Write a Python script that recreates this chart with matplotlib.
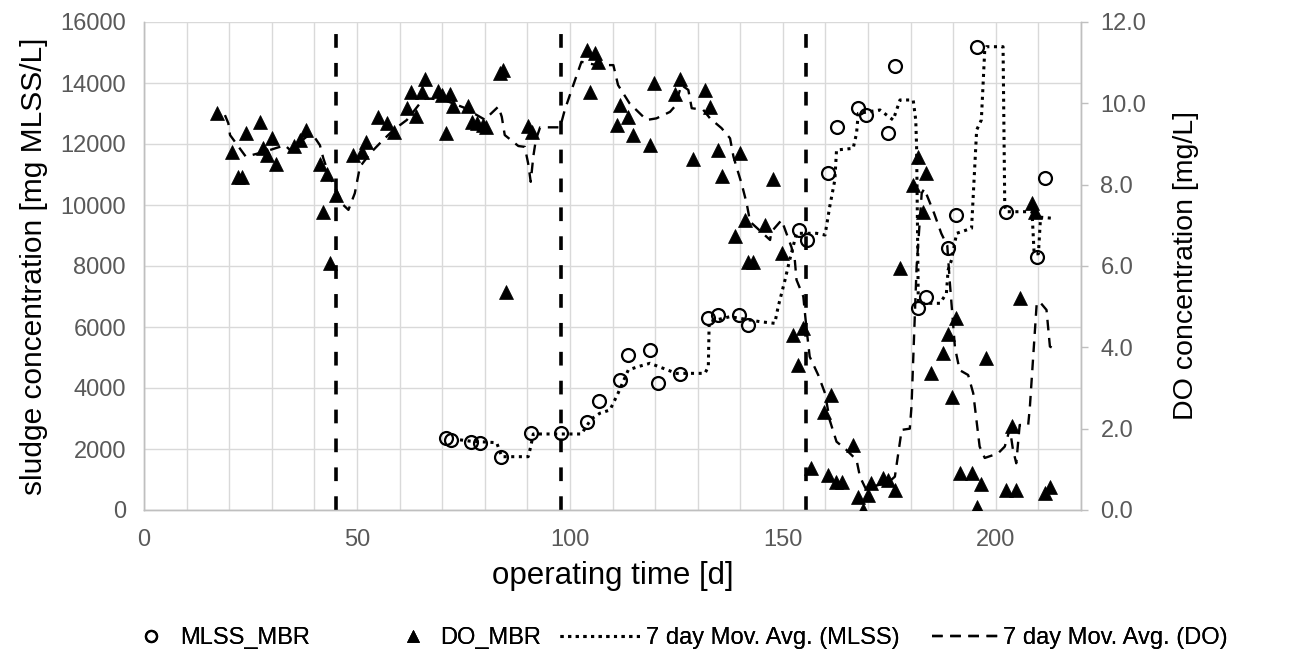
import matplotlib
matplotlib.use("Agg")
import matplotlib.pyplot as plt
from matplotlib.lines import Line2D

# ---------------- data ----------------
mlss_day = [71.0, 72.0, 76.7, 78.9, 83.8, 90.8, 97.9, 103.9, 106.8, 111.7, 113.7,
            118.8, 120.7, 125.8, 132.5, 134.8, 139.7, 141.9, 153.8, 155.6, 160.6,
            162.6, 167.7, 169.6, 174.7, 176.4, 181.8, 183.7, 188.8, 190.6, 195.5,
            202.5, 209.6, 211.5]
mlss_val = [2350, 2300, 2240, 2210, 1730, 2510, 2510, 2900, 3590, 4260, 5080,
            5250, 4180, 4450, 6280, 6390, 6390, 6070, 9180, 8850, 11060,
            12570, 13170, 12950, 12370, 14560, 6610, 6970, 8580, 9670, 15190,
            9780, 8290, 10880]

do_day = [17.1, 20.6, 22.1, 22.9, 24.0, 27.2, 28.0, 28.8, 30.0, 31.0, 35.2, 36.6,
          38.0, 41.3, 42.0, 42.9, 43.7, 45.0, 49.1, 51.1, 52.1, 55.0, 57.0, 58.8,
          61.7, 62.8, 63.8, 65.2, 66.0, 69.1, 69.9, 71.0, 71.8, 72.6, 76.1, 76.9,
          78.1, 79.5, 80.4, 83.6, 84.3, 85.0, 90.2, 91.0, 103.9, 104.7, 105.9,
          106.6, 111.0, 111.7, 113.7, 114.9, 118.8, 119.7, 124.6, 125.8, 128.8,
          131.7, 132.9, 134.8, 135.8, 138.7, 139.9, 141.1, 141.9, 143.0, 145.8,
          147.7, 149.7, 152.4, 153.6, 154.8, 156.7, 159.6, 160.6, 161.4, 162.4,
          163.8, 166.4, 167.7, 168.9, 170.0, 170.8, 173.5, 174.7, 176.3, 177.6,
          180.6, 181.8, 182.9, 183.7, 184.7, 187.6, 188.8, 189.6, 190.6, 191.5,
          194.5, 195.6, 196.6, 197.7, 202.3, 203.7, 204.7, 205.6, 208.4, 209.2,
          211.5, 212.8]
do_val = [9.77, 8.81, 8.20, 8.20, 9.26, 9.55, 8.89, 8.73, 9.14, 8.52, 8.95, 9.10,
          9.34, 8.52, 7.33, 8.26, 6.07, 7.75, 8.73, 8.81, 9.06, 9.67, 9.51, 9.30,
          9.88, 10.29, 9.69, 10.29, 10.59, 10.31, 10.20, 9.26, 10.23, 9.93, 9.93, 9.55,
          9.51, 9.47, 9.43, 10.74, 10.82, 5.37, 9.44, 9.30, 11.31, 10.29, 11.23,
          11.02, 9.47, 9.96, 9.67, 9.22, 8.97, 10.49, 10.23, 10.59, 8.62,
          10.33, 9.92, 8.85, 8.21, 6.74, 8.77, 7.13, 6.10, 6.10, 7.01,
          8.13, 6.31, 4.30, 3.57, 4.47, 1.03, 2.42, 0.86, 2.83, 0.70,
          0.70, 1.60, 0.33, 0.00, 0.37, 0.66, 0.78, 0.74, 0.49, 5.96,
          7.99, 8.69, 7.33, 8.28, 3.36, 3.87, 4.33, 2.77, 4.71, 0.90,
          0.90, 0.07, 0.64, 3.73, 0.49, 2.07, 0.49, 5.21, 7.54, 7.33,
          0.41, 0.57]

# 7 day moving averages as drawn in the reference
ma_mlss_day = [74.2, 77.0, 80.0, 82.8, 84.0, 90.2, 90.8, 91.4, 102.7, 105.0, 107.0,
               109.4, 111.3, 113.7, 116.0, 118.8, 121.9, 125.0, 131.7, 132.5, 132.7,
               137.6, 139.9, 144.6, 148.1, 148.9, 150.5, 151.6, 153.2, 157.9, 159.9,
               161.0, 162.2, 162.6, 166.5, 167.3, 167.7, 172.8, 175.9, 177.5, 180.6,
               181.2, 181.4, 181.8, 186.9, 188.4, 188.8, 189.6, 190.8, 194.3, 195.5,
               196.6, 197.4, 197.8, 201.7, 202.1, 202.5, 208.5, 209.0, 210.0, 210.5,
               213.4]
ma_mlss_val = [2300, 2250, 2230, 2207, 1748, 1748, 2075, 2492, 2492, 2980, 3170,
               3279, 3826, 4590, 4700, 4810, 4645, 4480, 4480, 4700, 6175,
               6339, 6284, 6175, 6120, 6666, 7541, 8197, 9072, 9072, 9016,
               9945, 10820, 11803, 11858, 12350, 13005, 13115, 12787, 13443, 13443,
               12787, 11911, 6777, 6777, 7105, 7869, 8197, 9072, 9235, 12459,
               12787, 15082, 15190, 15190, 9945, 9780, 9780, 8400, 8400, 9600,
               9563]

ma_do_day = [19.0, 19.8, 20.2, 22.5, 23.9, 28.0, 33.1, 34.3, 38.2, 39.7, 41.3, 42.1,
             43.3, 44.4, 46.8, 48.0, 49.5, 50.7, 53.1, 55.4, 58.5, 61.7, 64.8, 66.0,
             70.0, 75.0, 80.0, 83.2, 84.0, 84.7, 87.9, 89.4, 90.2, 90.8, 91.4, 92.0,
             93.0, 97.7, 98.8, 100.8, 102.7, 106.3, 110.2, 111.3, 114.0, 118.0,
             120.3, 123.5, 124.6, 126.2, 127.8, 128.6, 131.3, 132.9, 135.6, 137.6,
             138.4, 139.1, 140.3, 141.5, 142.3, 147.0, 147.3, 149.7, 152.0, 152.8,
             153.2, 154.8, 155.5, 156.3, 158.3, 159.9, 161.0, 162.6, 164.9, 167.3,
             168.1, 169.6, 172.0, 175.0, 176.3, 177.9, 179.8, 180.2, 181.4, 182.6,
             183.2, 185.5, 187.2, 188.6, 189.2, 190.4, 191.5, 193.5, 194.7, 196.2,
             197.4, 200.5, 202.1, 203.3, 204.0, 204.8, 205.6, 207.6, 208.0, 209.6,
             210.3, 211.9, 212.7, 213.4]
ma_do_val = [9.71, 9.51, 9.22, 8.89, 8.69, 8.80, 8.97, 8.85, 9.18, 9.22, 8.97, 8.65,
             8.28, 8.03, 7.50, 7.38, 7.79, 8.44, 8.77, 9.02, 9.34, 9.59, 10.00, 10.12,
             10.10, 9.90, 9.60, 9.92, 9.67, 9.22, 8.95, 8.93, 8.52, 8.07, 8.69, 9.10,
             9.41, 9.41, 9.84, 10.45, 11.02, 10.94, 10.94, 10.45, 10.00, 9.59,
             9.63, 9.79, 9.92, 10.45, 10.33, 9.88, 9.84, 9.63, 9.39, 9.14,
             8.69, 8.44, 8.03, 7.54, 7.09, 6.64, 6.84, 7.13, 6.47, 6.15,
             5.66, 5.25, 4.51, 3.77, 3.32, 2.87, 2.21, 1.68, 1.48, 1.23,
             0.82, 0.49, 0.60, 0.70, 0.82, 1.97, 2.00, 2.54, 5.98, 7.79,
             7.90, 7.30, 6.80, 6.50, 5.60, 4.00, 3.44, 3.32, 2.87, 1.56,
             1.28, 1.39, 1.56, 2.00, 1.50, 1.15, 2.09, 2.09, 2.54, 5.08,
             5.12, 4.92, 4.02, 3.98]

phase_days = [45, 98, 155.5]

x_ticks = [0, 50, 100, 150, 200]
y_left_ticks = [0, 2000, 4000, 6000, 8000, 10000, 12000, 14000, 16000]
y_right_ticks = [0, 2, 4, 6, 8, 10, 12]

labels = ["MLSS_MBR", "DO_MBR", "7 day Mov. Avg. (MLSS)", "7 day Mov. Avg. (DO)"]

# ---------------- style ----------------
plt.rcParams['font.family'] = ['Liberation Sans', 'DejaVu Sans']
tick_col = '#595959'
grid_col = '#d9d9d9'
spine_col = '#bfbfbf'

W, H = 1289, 657
fig = plt.figure(figsize=(W / 100, H / 100), dpi=100)
ax = fig.add_axes([144 / W, 1 - 510 / H, (1081 - 144) / W, (510 - 22) / H])
ax2 = ax.twinx()

ax.set_xlim(0, 220)
ax.set_ylim(0, 16000)
ax2.set_ylim(0, 12)

ax.set_xticks(x_ticks)
ax.set_xticks(range(0, 221, 10), minor=True)
ax.set_yticks(y_left_ticks)
ax2.set_yticks(y_right_ticks)
ax2.set_yticklabels([f"{v:.1f}" for v in y_right_ticks])

ax.grid(which='both', axis='x', color=grid_col, lw=1.0)
ax.grid(which='major', axis='y', color=grid_col, lw=1.0)
ax.set_axisbelow(True)

for a in (ax, ax2):
    for s in a.spines.values():
        s.set_color(spine_col)
        s.set_linewidth(1.0)
    a.spines['top'].set_visible(False)

ax.tick_params(axis='x', which='both', length=0, labelsize=17, labelcolor=tick_col, pad=14)
ax.tick_params(axis='y', length=0, labelsize=17, labelcolor=tick_col, pad=13)
ax2.tick_params(axis='y', length=5, color=spine_col, width=1, labelsize=17,
                labelcolor=tick_col, pad=9)

ax.set_xlabel("operating time [d]", fontsize=22.5, labelpad=7)
ax.set_ylabel("sludge concentration [mg MLSS/L]", fontsize=21.5, labelpad=9)
ax2.set_ylabel("DO concentration [mg/L]", fontsize=20.5, labelpad=19)

# phase separators
for d in phase_days:
    ax.axvline(d, color='black', lw=2.6, linestyle=(0, (3.8, 4.2)), zorder=3)

# series
mlss_style = dict(linestyle='none', marker='o', markerfacecolor='none',
                  markeredgecolor='black', markeredgewidth=1.6)
do_style = dict(linestyle='none', marker='^', markerfacecolor='black',
                markeredgecolor='black', markeredgewidth=0.5)
ma_mlss_style = dict(color='black', lw=2.2, linestyle=(0, (1, 1.5)))
ma_do_style = dict(color='black', lw=1.7, linestyle=(0, (4.5, 3.2)))

ax.plot(mlss_day, mlss_val, markersize=9.3, zorder=4, **mlss_style)
ax.plot(ma_mlss_day, ma_mlss_val, zorder=4, **ma_mlss_style)
ax2.plot(do_day, do_val, markersize=10, zorder=4, **do_style)
ax2.plot(ma_do_day, ma_do_val, zorder=4, **ma_do_style)

# legend: one entry per legend so each sits where the reference has it
handles = [
    Line2D([], [], markersize=8, **mlss_style),
    Line2D([], [], markersize=9, **do_style),
    Line2D([], [], **ma_mlss_style),
    Line2D([], [], **ma_do_style),
]
fs = 17
px_per_em = fs * 100 / 72
entries = [  # handle left px, handle length px, text start px
    (137, 28, 180),
    (399, 28, 440),
    (560, 80, 646),
    (932, 68, 1003),
]
y_leg = 1 - 638 / H
for h, lab, (x0, hl, xt) in zip(handles, labels, entries):
    leg = fig.legend([h], [lab], loc='center left', bbox_to_anchor=(x0 / W, y_leg),
                     frameon=False, fontsize=fs, borderpad=0, borderaxespad=0,
                     handlelength=hl / px_per_em,
                     handletextpad=(xt - x0 - hl) / px_per_em)
    fig.add_artist(leg)

fig.savefig("out.png", dpi=100)
